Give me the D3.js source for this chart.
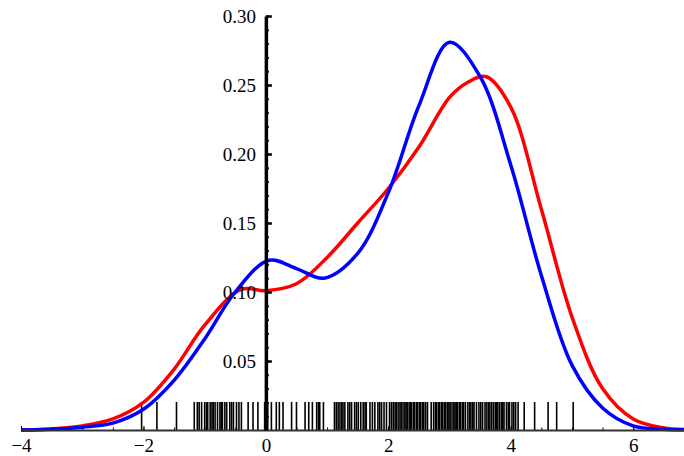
<!DOCTYPE html>
<html lang="en">

<head>
  <meta charset="UTF-8">
  <title>Density</title>
  <style>
    body { margin: 0; background: #fff; }
    svg text { font-family: 'Liberation Serif', 'Times New Roman', serif !important; }
  </style>
</head>

<body>
  <script src="https://cdnjs.cloudflare.com/ajax/libs/d3/7.8.5/d3.min.js"></script>
  <script>
    let width = 684
    let height = 456

    // red curve
    let redX = [-4, -3.5, -3, -2.5, -2, -1.5, -1, -0.4, 0, 0.5, 1, 1.5, 2, 2.5, 3, 3.3, 3.6, 4, 4.5, 5, 5.5, 6, 6.5, 6.83]
    let redY = [0, 0.0008, 0.003, 0.008, 0.020, 0.044, 0.076, 0.102, 0.101, 0.106, 0.125, 0.150, 0.175, 0.205, 0.241, 0.252, 0.256, 0.234, 0.160, 0.082, 0.030, 0.008, 0.0015, 0.0004]
    // blue curve
    let blueX = [-4, -3.5, -3, -2.5, -2, -1.5, -1, -0.5, 0.05, 0.5, 0.95, 1.5, 2, 2.5, 3, 3.5, 4, 4.5, 5, 5.5, 6, 6.5, 6.83]
    let blueY = [0, 0.0005, 0.002, 0.005, 0.015, 0.036, 0.066, 0.100, 0.123, 0.117, 0.110, 0.128, 0.172, 0.235, 0.281, 0.256, 0.192, 0.112, 0.047, 0.016, 0.003, 0.0005, 0.0001]

    // rug of the sample
    let rug = [-2.03, -1.78, -1.46, -1.17, -1.12, -1.09, -1.05, -1.00, -0.97, -0.95, -0.91, -0.88, -0.86, -0.83, -0.79,
      -0.75, -0.73, -0.71, -0.67, -0.64, -0.59, -0.56, -0.53, -0.48, -0.44, -0.40, -0.29, -0.21, -0.13, -0.02, 0.01,
      0.03, 0.09, 0.17, 0.22, 0.28, 0.42, 0.50, 0.64, 0.70, 0.76, 0.83, 0.86, 0.88, 0.94,
      1.12, 1.15, 1.18, 1.21, 1.24, 1.26, 1.29, 1.34, 1.37, 1.40, 1.45, 1.48, 1.51, 1.55, 1.59, 1.62, 1.64, 1.70, 1.74,
      1.78, 1.83, 1.86, 1.89, 1.93, 1.97, 2.02, 2.05, 2.08, 2.11, 2.13, 2.16, 2.19, 2.21, 2.24, 2.27, 2.29, 2.31, 2.34,
      2.36, 2.38, 2.41, 2.43, 2.46, 2.48, 2.51, 2.53, 2.56, 2.58, 2.61, 2.64, 2.70, 2.74, 2.77, 2.79, 2.82, 2.84, 2.87,
      2.89, 2.92, 2.94, 2.97, 2.99, 3.01, 3.04, 3.07, 3.09, 3.11, 3.13, 3.16, 3.18, 3.21, 3.23, 3.26, 3.30, 3.33, 3.35,
      3.38, 3.40, 3.44, 3.48, 3.51, 3.54, 3.58, 3.61, 3.64, 3.66, 3.69, 3.72, 3.75, 3.77, 3.79, 3.82, 3.85, 3.87, 3.89,
      3.93, 3.96, 3.98, 4.02, 4.05, 4.08, 4.12, 4.22, 4.39, 4.61, 4.75, 5.02]

    let xMajor = [-4, -2, 0, 2, 4, 6]
    let yMajor = [0.05, 0.10, 0.15, 0.20, 0.25, 0.30]

    let svg = d3.select('body')
      .append('svg')
      .attr('width', width)
      .attr('height', height)

    let xScale = d3.scaleLinear()
      .domain([-4, 6.83])
      .range([21, 684])

    let yScale = d3.scaleLinear()
      .domain([0, 0.30])
      .range([430, 16])

    // rug lines
    svg.selectAll('.rug')
      .data(rug)
      .enter()
      .append('line')
      .attr('class', 'rug')
      .attr('x1', d => xScale(d))
      .attr('x2', d => xScale(d))
      .attr('y1', 402)
      .attr('y2', yScale(0))
      .attr('stroke', '#000')
      .attr('stroke-width', 1.6)

    let line = d3.line()
      .x(d => xScale(d[0]))
      .y(d => yScale(d[1]))
      .curve(d3.curveCatmullRom.alpha(0.5))

    svg.append('path')
      .datum(d3.zip(redX, redY))
      .attr('d', line)
      .attr('fill', 'none')
      .attr('stroke', '#ff0000')
      .attr('stroke-width', 3.5)

    svg.append('path')
      .datum(d3.zip(blueX, blueY))
      .attr('d', line)
      .attr('fill', 'none')
      .attr('stroke', '#0000ff')
      .attr('stroke-width', 3.5)

    // x axis
    let xMinor = svg.append('g')
      .attr('transform', `translate(0,${yScale(0)})`)
      .call(d3.axisBottom(xScale).tickValues(d3.range(-4, 7, 0.5)).tickSize(-2.5).tickFormat(''))
    xMinor.select('.domain').remove()

    let xAxis = svg.append('g')
      .attr('class', 'x-axis')
      .attr('transform', `translate(0,${yScale(0)})`)
      .call(d3.axisBottom(xScale).tickValues(xMajor).tickSizeInner(-4).tickSizeOuter(0).tickPadding(9)
        .tickFormat(d => d < 0 ? '\u2212' + Math.abs(d) : d))
    xAxis.attr('font-family', null).attr('font-size', null)
    xAxis.select('.domain').attr('stroke', '#333').attr('stroke-width', 2)
    xAxis.selectAll('text').style('font-size', '19px').attr('fill', '#000')

    // y axis
    let yMinor = svg.append('g')
      .attr('transform', `translate(${xScale(0)},0)`)
      .call(d3.axisLeft(yScale).tickValues(d3.range(0.01, 0.301, 0.01)).tickSize(-3).tickFormat(''))
    yMinor.select('.domain').remove()
    yMinor.selectAll('line').attr('stroke-width', 2)

    let yAxis = svg.append('g')
      .attr('class', 'y-axis')
      .attr('transform', `translate(${xScale(0)},0)`)
      .call(d3.axisLeft(yScale).tickValues(yMajor).tickSizeInner(-6).tickSizeOuter(0).tickPadding(10)
        .tickFormat(d3.format('.2f')))
    yAxis.attr('font-family', null).attr('font-size', null)
    yAxis.select('.domain').attr('stroke', '#000').attr('stroke-width', 3.5)
    yAxis.selectAll('line').attr('stroke-width', 2.5)
    yAxis.selectAll('text').style('font-size', '19px').attr('fill', '#000')
  </script>
</body>

</html>
